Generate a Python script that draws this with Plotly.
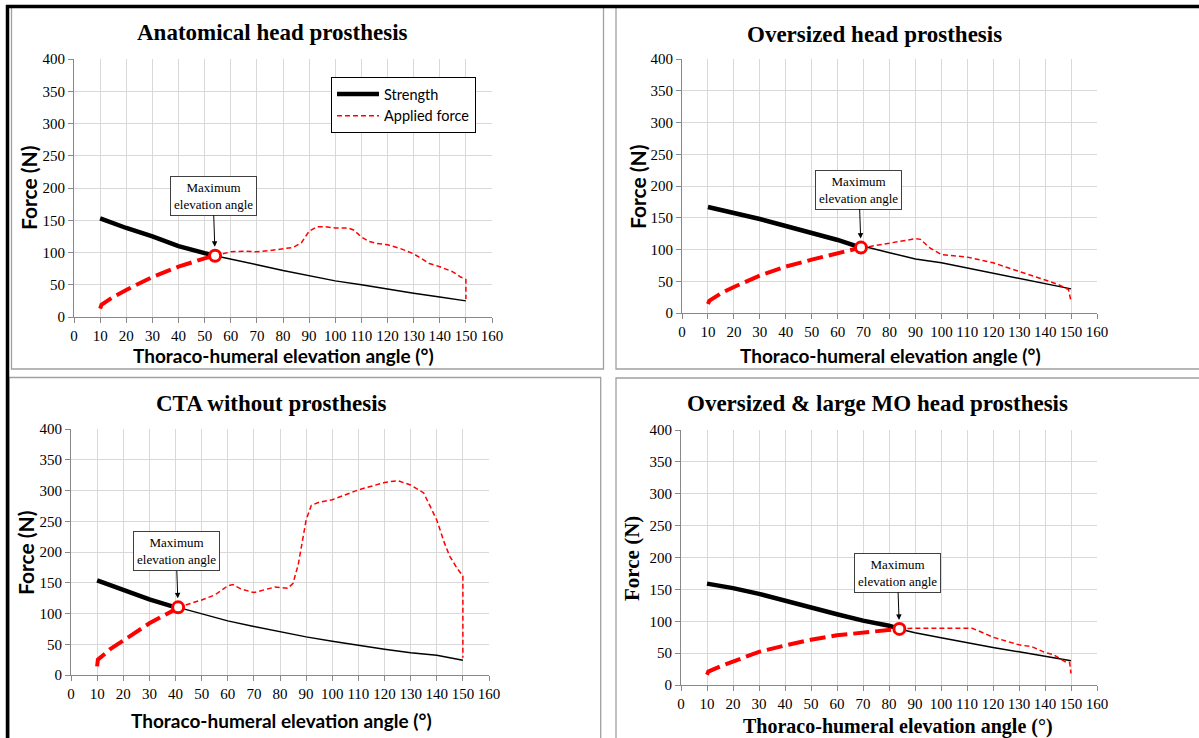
import plotly.graph_objects as go

# ---------------- data ----------------
titles = ["Anatomical head prosthesis", "Oversized head prosthesis",
          "CTA without prosthesis", "Oversized &amp; large MO head prosthesis"]
x_title = "Thoraco-humeral elevation angle (°)"
y_title = "Force (N)"
annot_text = "Maximum<br>elevation angle"
x_ticks = [0, 10, 20, 30, 40, 50, 60, 70, 80, 90, 100, 110, 120, 130, 140, 150, 160]
y_ticks = [0, 50, 100, 150, 200, 250, 300, 350, 400]

strength_angle = [10, 20, 30, 40, 50, 60, 70, 80, 90, 100, 110, 120, 130, 140, 150]

p1_strength = [153, 138, 125, 110, 99, 90, 81, 72, 64, 56, 50, 43, 37, 31, 25]
p1_applied_angle = [10, 10.5, 15, 20, 30, 40, 50, 60, 65, 70, 75, 80, 84, 87, 90, 93, 96, 100,
                    105, 107, 110, 113, 116, 120, 125, 130, 133, 136, 140, 145, 148, 150, 150]
p1_applied = [13, 19, 31, 42, 62, 78, 91, 101, 102, 101, 103, 106, 108, 115, 133, 140, 140, 138,
              138, 135, 124, 117, 114, 112, 106, 98, 90, 83, 78, 70, 62, 58, 28]
p1_max = (54, 95)

p2_strength = [167, 158, 148, 137, 126, 115, 105, 95, 85, 79, 71, 62, 54, 46, 38]
p2_applied_angle = [10, 10.5, 15, 20, 30, 40, 50, 60, 70, 80, 90, 92, 95, 100, 110, 120, 130,
                    140, 145, 149, 150]
p2_applied = [14, 19, 31, 41, 59, 73, 84, 94, 103, 110, 117, 116, 104, 92, 88, 79, 66, 52, 45, 37, 18]
p2_max = (69, 103)

p3_strength = [154, 138, 123, 110, 99, 88, 79, 70, 62, 55, 48, 42, 36, 32, 24]
p3_applied_angle = [10, 10.3, 15, 20, 30, 40, 50, 55, 60, 62, 65, 70, 75, 78, 83, 85, 87, 88, 90,
                    92, 95, 100, 105, 110, 115, 120, 125, 130, 135, 138, 140, 143, 145, 148, 150, 150]
p3_applied = [14, 25, 42, 56, 84, 107, 122, 130, 145, 147, 140, 134, 139, 143, 141, 149, 180, 205,
              252, 276, 281, 285, 293, 301, 307, 313, 316, 309, 296, 271, 252, 214, 193, 172, 161, 28]
p3_max = (41, 110)

p4_strength = [159, 152, 143, 132, 122, 111, 101, 93, 82, 74, 66, 59, 52, 45, 38]
p4_applied_angle = [10, 10.5, 15, 20, 30, 40, 50, 60, 70, 80, 84, 90, 100, 112, 115, 120, 125,
                    130, 135, 140, 143, 146, 148, 149.5, 150]
p4_applied = [16, 21, 29, 37, 52, 62, 71, 78, 82, 86, 88, 89, 89, 89, 84, 75, 69, 63, 60, 51, 48,
              40, 36, 35, 18]
p4_max = (84, 88)

panels = [
    (p1_strength, p1_applied_angle, p1_applied, p1_max),
    (p2_strength, p2_applied_angle, p2_applied, p2_max),
    (p3_strength, p3_applied_angle, p3_applied, p3_max),
    (p4_strength, p4_applied_angle, p4_applied, p4_max),
]

# ---------------- layout geometry (pixels) ----------------
W, H = 1199, 738
def PX(p): return p / W
def PY(p): return 1 - p / H

plot_boxes = [(74, 492, 59, 317), (682, 1097, 59, 313), (71, 489, 429, 675), (681, 1097, 430, 685)]
title_pos = [(272, 33), (875, 35), (271, 403), (877, 403)]
xtitle_pos = [(283, 355), (890, 355), (281, 720), (898, 726)]
ytitle_pos = [(28, 188), (637, 187), (25, 552), (632, 559)]
ann_ay = [-60, -58, -56, -56]

SERIF = "Liberation Serif"
SANS = "Lato"

fig = go.Figure()
layout = dict(width=W, height=H, template="none",
              margin=dict(l=0, r=0, t=0, b=0, pad=0, autoexpand=False),
              paper_bgcolor="white", plot_bgcolor="white", showlegend=True,
              annotations=[], shapes=[])

def split(xs, ys, xi, yi):
    ax_, ay_ = [], []
    bx_, by_ = [xi], [yi]
    for xv, yv in zip(xs, ys):
        if xv <= xi:
            ax_.append(xv); ay_.append(yv)
        else:
            bx_.append(xv); by_.append(yv)
    ax_.append(xi); ay_.append(yi)
    return ax_, ay_, bx_, by_

for i, (strength, app_x, app_y, (mx, my)) in enumerate(panels):
    k = "" if i == 0 else str(i + 1)
    xa, ya = "x" + k, "y" + k
    l, r, t, b = plot_boxes[i]
    axis_common = dict(showgrid=True, gridcolor="#d9d9d9", gridwidth=1, zeroline=False,
                       showline=True, linecolor="#888888", linewidth=1, ticks="outside",
                       ticklen=5, tickcolor="#888888", mirror=False, automargin=False,
                       tickfont=dict(family=SERIF, size=15, color="black"), fixedrange=True)
    layout["xaxis" + k] = dict(axis_common, domain=[PX(l), PX(r)], range=[0, 160],
                               tickvals=x_ticks, anchor=ya)
    layout["yaxis" + k] = dict(axis_common, domain=[PY(b), PY(t)], range=[0, 400],
                               tickvals=y_ticks, anchor=xa)

    s_ax, s_ay, s_bx, s_by = split(strength_angle, strength, mx, my)
    a_ax, a_ay, a_bx, a_by = split(app_x, app_y, mx, my)
    first = (i == 0)
    fig.add_trace(go.Scatter(x=s_bx, y=s_by, mode="lines", xaxis=xa, yaxis=ya,
                             line=dict(color="black", width=1.5), showlegend=False))
    fig.add_trace(go.Scatter(x=s_ax, y=s_ay, mode="lines", xaxis=xa, yaxis=ya, name="Strength",
                             line=dict(color="black", width=4.5), showlegend=first, legendrank=1))
    fig.add_trace(go.Scatter(x=a_bx, y=a_by, mode="lines", xaxis=xa, yaxis=ya, name="Applied force",
                             line=dict(color="#ff0000", width=1.5, dash="5px,3px"),
                             showlegend=first, legendrank=2))
    fig.add_trace(go.Scatter(x=a_ax, y=a_ay, mode="lines", xaxis=xa, yaxis=ya,
                             line=dict(color="#ff0000", width=4, dash="16px,6px"), showlegend=False))
    fig.add_trace(go.Scatter(x=[mx], y=[my], mode="markers", xaxis=xa, yaxis=ya, showlegend=False,
                             marker=dict(symbol="circle", size=11, color="white",
                                         line=dict(color="#ff0000", width=3))))

    # panel title
    tx, ty = title_pos[i]
    layout["annotations"].append(dict(text="<b>%s</b>" % titles[i], xref="paper", yref="paper",
                                      x=PX(tx), y=PY(ty), showarrow=False, xanchor="center",
                                      yanchor="middle",
                                      font=dict(family=SERIF, size=23, color="black")))
    fam = SERIF if i == 3 else SANS
    fs = 20 if i == 3 else 19
    fsy = 21 if i == 3 else 21
    xx, xy = xtitle_pos[i]
    layout["annotations"].append(dict(text="<b>%s</b>" % x_title, xref="paper", yref="paper",
                                      x=PX(xx), y=PY(xy), showarrow=False, xanchor="center",
                                      yanchor="middle", font=dict(family=fam, size=fs, color="black")))
    yx, yy = ytitle_pos[i]
    layout["annotations"].append(dict(text="<b>%s</b>" % y_title, xref="paper", yref="paper",
                                      x=PX(yx), y=PY(yy), showarrow=False, textangle=-90,
                                      xanchor="center", yanchor="middle",
                                      font=dict(family=fam, size=fsy, color="black")))
    # maximum elevation annotation
    layout["annotations"].append(dict(text=annot_text, xref=xa, yref=ya, x=mx, y=my,
                                      showarrow=True, ax=-2, ay=ann_ay[i], standoff=9,
                                      arrowhead=2, arrowsize=1.1, arrowwidth=1, arrowcolor="black",
                                      bordercolor="#404040", borderwidth=1, borderpad=3,
                                      bgcolor="white",
                                      font=dict(family=SERIF, size=13, color="black")))

# panel borders
gray = "#a0a0a0"
for (x0, y0, x1, y1) in [(11.5, 7, 603.5, 369), (616, 7, 1210, 369),
                         (9, 377.5, 600.7, 750), (616, 378, 1210, 750)]:
    layout["shapes"].append(dict(type="rect", xref="paper", yref="paper", x0=PX(x0), x1=PX(x1),
                                 y0=PY(y1), y1=PY(y0), line=dict(color=gray, width=1.3),
                                 layer="below"))
layout["shapes"].append(dict(type="line", xref="paper", yref="paper", x0=PX(6), x1=PX(1199),
                             y0=PY(6.5), y1=PY(6.5), line=dict(color="black", width=3.5)))
layout["shapes"].append(dict(type="line", xref="paper", yref="paper", x0=PX(7.5), x1=PX(7.5),
                             y0=PY(5), y1=PY(738), line=dict(color="black", width=3.5)))

layout["legend"] = dict(x=PX(331), y=PY(77), xanchor="left", yanchor="top", bgcolor="white",
                        bordercolor="black", borderwidth=1,
                        font=dict(family=SANS, size=14.5, color="black"),
                        itemwidth=42, tracegroupgap=0)

fig.update_layout(**layout)
fig.write_html("out.html", config={"displayModeBar": False},
               post_script="document.body.style.margin='0';document.body.style.overflow='hidden';")
